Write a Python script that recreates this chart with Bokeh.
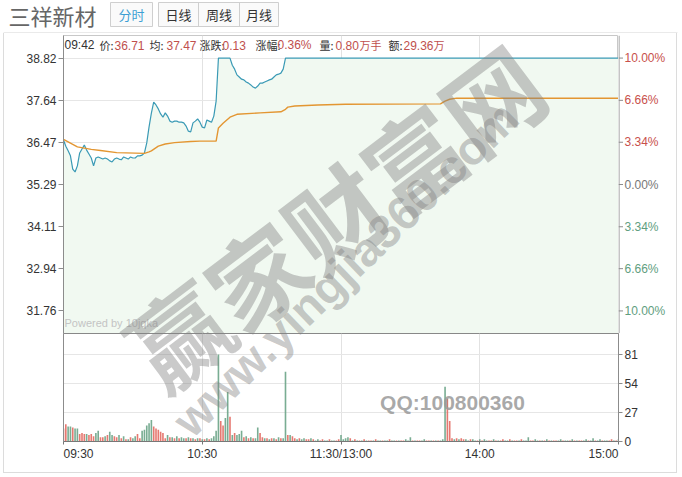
from bokeh.plotting import figure
from bokeh.models import Range1d, LinearAxis, FixedTicker, Label, ColumnDataSource
from bokeh.layouts import column, row
from bokeh.core.properties import value
from bokeh.embed import file_html
from bokeh.resources import INLINE

# ---------------- data ----------------
stock_name = "三祥新材"
tabs = ["分时", "日线", "周线", "月线"]

price_ticks = [31.76, 32.94, 34.11, 35.29, 36.47, 37.64, 38.82]
price_tick_labels = ["31.76", "32.94", "34.11", "35.29", "36.47", "37.64", "38.82"]
pct_labels = ["10.00%", "6.66%", "3.34%", "0.00%", "3.34%", "6.66%", "10.00%"]
pct_colors = ["#5f9e80", "#5f9e80", "#5f9e80", "#777777", "#c8504b", "#c8504b", "#c8504b"]

vol_ticks = [0, 27, 54, 81]
time_ticks = [0, 60, 120, 180, 240]
time_labels = ["09:30", "10:30", "11:30/13:00", "14:00", "15:00"]

# minute index (0 = 09:30) and price of the last-price line
price_min = list(range(0, 97)) + [240]
price_val = [36.53, 36.36, 36.23, 36.09, 35.72, 35.64, 35.81, 36.17, 36.28, 36.39,
             36.25, 36.14, 36.03, 35.81, 36.03, 36.06, 36.03, 36.00, 36.03, 36.00,
             35.95, 35.92, 36.00, 36.03, 36.00, 35.98, 36.06, 36.03, 36.00, 36.06,
             36.03, 36.03, 36.09, 36.09, 36.11, 36.17, 36.45, 36.90, 37.28, 37.59,
             37.51, 37.40, 37.26, 37.17, 37.29, 37.20, 37.06, 37.03, 37.06, 37.06,
             37.03, 37.03, 37.01, 36.92, 36.78, 36.76, 37.01, 37.06, 37.12, 37.03,
             36.89, 36.87, 37.09, 37.06, 37.03, 37.20, 37.62, 38.82, 38.82, 38.82,
             38.82, 38.82, 38.82, 38.62, 38.51, 38.35, 38.29, 38.23, 38.21, 38.15,
             38.12, 38.07, 38.01, 37.98, 38.04, 38.12, 38.12, 38.15, 38.18, 38.21,
             38.23, 38.29, 38.35, 38.37, 38.40, 38.51, 38.82, 38.82]

# average price line
avg_min = [0, 6, 12, 16, 23, 35, 37, 38, 41, 44, 48, 55, 59, 66, 67, 69, 72, 75, 85,
           94, 96, 97, 100, 110, 122, 163, 165, 167, 170, 240]
avg_val = [36.55, 36.34, 36.27, 36.24, 36.18, 36.16, 36.20, 36.23, 36.36, 36.42,
           36.46, 36.49, 36.50, 36.50, 36.87, 37.00, 37.17, 37.25, 37.29, 37.32,
           37.39, 37.45, 37.48, 37.51, 37.53, 37.54, 37.62, 37.67, 37.70, 37.70]

# volume per minute and direction (u = up/red, d = down/green)
vol_0930 = [12, 16, 14, 14, 13, 12, 12, 7, 8, 7,
            7, 6, 7, 5, 8, 10, 4, 4, 5, 6,
            9, 6, 5, 4, 6, 3, 5, 2, 2, 4,
            3, 5, 7, 3, 10, 11, 15, 17, 20, 14,
            12, 11, 9, 8, 3, 6, 4, 4, 3, 5,
            3, 4, 3, 3, 4, 3, 3, 2, 3, 3]
vol_1030 = [2, 2, 3, 2, 3, 5, 10, 81, 19, 15,
            22, 46, 23, 6, 8, 6, 7, 10, 4, 5,
            3, 4, 3, 3, 13, 8, 4, 3, 3, 2,
            3, 3, 2, 4, 3, 3, 65, 6, 6, 5,
            3, 2, 3, 2, 3, 2, 2, 3, 2, 1,
            2, 1, 2, 1, 1, 2, 1, 1, 1, 2]
vol_1300 = [6, 2, 3, 4, 3, 1, 2, 1, 1, 1,
            2, 1, 1, 1, 1, 2, 1, 1, 1, 1,
            1, 2, 1, 1, 1, 1, 1, 1, 2, 1,
            4, 1, 1, 1, 1, 1, 2, 1, 1, 1,
            1, 1, 1, 1, 2, 51, 40, 19, 3, 2,
            3, 2, 3, 2, 2, 1, 2, 2, 1, 1]
vol_1400 = [2, 1, 2, 1, 1, 1, 2, 1, 1, 1,
            2, 1, 1, 2, 1, 1, 1, 1, 2, 1,
            1, 4, 1, 1, 2, 1, 1, 1, 1, 2,
            1, 1, 1, 1, 1, 2, 1, 1, 1, 1,
            2, 1, 1, 1, 1, 1, 2, 1, 1, 3,
            1, 1, 2, 1, 1, 1, 1, 2, 1, 1, 2]
dir_0930 = ("uuddudduuu" "duuudduudu" "dduudududu" "dduudddddu" "uuuuududud" "uddudududu")
dir_1030 = ("dududddduu" "ddududddud" "ududduudud" "udududdudu" "ududduudud" "duuddudduu")
dir_1300 = ("ddddududud" "uduududdud" "dudduduudd" "duduudduud" "ududdduuud" "uduudduddu")
dir_1400 = ("dudduududu" "udduduudud" "dduuddudud" "uduudduddu" "duduuddudd" "uddudduudud")

# info line: (text, left x in px, kind d=label r=value, cjk?)
info_parts = [("09:42", 64, "d", False), ("价:", 99, "d", True), ("36.71", 114, "r", False),
              ("均:", 149, "d", True), ("37.47", 166, "r", False),
              ("涨跌:", 199, "d", True), ("0.13", 222, "r", False),
              ("涨幅:", 255, "d", True), ("0.36%", 277, "r", False),
              ("量:", 319, "d", True), ("0.80", 335, "r", False), ("万手", 359, "r", True),
              ("额:", 388, "d", True), ("29.36", 403, "r", False), ("万", 433, "r", True)]

# ---------------- layout helpers ----------------
LAT = "Liberation Sans"
CJK = "Noto Sans CJK SC"
P_LO, P_HI = 31.13, 39.45
V_HI = 100.6
X_PX = 555 / 240.0
NB = "\u00a0"


def px_to_min(px):
    return (px - 63) / X_PX


def py_to_price(py):
    return P_HI - (py - 35) * (P_HI - P_LO) / 298.0


def py_to_vol(py):
    return (441 - py) * V_HI / 108.0


def no_align(fig):
    try:
        fig.frame_align = False
    except Exception:
        pass


def watermarks(fig, yconv):
    fig.add_layout(Label(x=px_to_min(333), y=yconv(214), text="赢家财富网", angle=37, angle_units="deg",
                         text_font=CJK, text_font_style="bold", text_font_size="98px",
                         text_color="#808080", text_alpha=0.42, text_align="center", text_baseline="middle"))
    fig.add_layout(Label(x=px_to_min(345), y=yconv(268), text="www.yingjia360.com", angle=44, angle_units="deg",
                         text_font=LAT, text_font_style="bold", text_font_size="47px",
                         text_color="#808080", text_alpha=0.42, text_align="center", text_baseline="middle"))


# ---------------- header ----------------
h = figure(width=682, height=33, x_range=Range1d(0, 682), y_range=Range1d(0, 33),
           toolbar_location=None, output_backend="svg", x_axis_location=None, y_axis_location=None,
           min_border=0, outline_line_color=None)
no_align(h)
h.grid.visible = False
h.quad(left=[110, 158], right=[152, 278], bottom=[7, 7], top=[31, 31],
       fill_color="#fafafa", line_color="#cfcfcf")
h.segment(x0=[198, 239], y0=[7, 7], x1=[198, 239], y1=[31, 31], line_color="#cfcfcf")
h.segment(x0=[3], y0=[0.5], x1=[677], y1=[0.5], line_color="#d4d4d4")
h.add_layout(Label(x=8, y=19, text=stock_name, text_font=CJK, text_font_size="22px",
                   text_color="#666666", text_baseline="middle"))
tab_x = [131, 178, 218.5, 258.5]
tab_c = ["#3d9fd4", "#333333", "#333333", "#333333"]
for t, tx, tc in zip(tabs, tab_x, tab_c):
    h.add_layout(Label(x=tx, y=19, text=t, text_font=CJK, text_font_size="13px",
                       text_color=tc, text_align="center", text_baseline="middle"))

# ---------------- price panel ----------------
p = figure(width=618, height=300, x_range=Range1d(0, 240), y_range=Range1d(P_LO, P_HI),
           toolbar_location=None, output_backend="svg", x_axis_location=None, y_axis_location="left",
           min_border_left=63, min_border_right=0, min_border_top=2, min_border_bottom=0,
           outline_line_color="#c8c8c8", background_fill_color="#ffffff", border_fill_color=None)
p.xgrid.ticker = FixedTicker(ticks=[60, 120, 180])
p.xgrid.grid_line_color = "#e2e2e2"
p.ygrid.ticker = FixedTicker(ticks=price_ticks)
p.ygrid.grid_line_color = "#e6e6e6"

src_p = ColumnDataSource(dict(x=price_min, y=price_val, lo=[P_LO] * len(price_min)))
p.varea(x="x", y1="lo", y2="y", source=src_p, fill_color="#f1f9f1")
p.line(x="x", y="y", source=src_p, line_color="#3a9ab5", line_width=1.2)
p.line(x=avg_min, y=avg_val, line_color="#e39632", line_width=1.4)

ya = p.yaxis[0]
ya.ticker = FixedTicker(ticks=price_ticks)
ya.major_label_overrides = {t: s for t, s in zip(price_ticks, price_tick_labels)}
ya.major_label_text_font = LAT
ya.major_label_text_font_size = "12px"
ya.major_label_text_color = "#333333"
ya.major_label_standoff = 2
ya.axis_line_color = "#8c8c8c"
ya.major_tick_line_color = "#8c8c8c"
ya.major_tick_out = 5
ya.major_tick_in = 0
ya.minor_tick_line_color = None

for s, px, kind, cjk in info_parts:
    p.add_layout(Label(x=px_to_min(px), y=py_to_price(44.5), text=s,
                       text_font=(CJK if cjk else LAT),
                       text_font_size=("11px" if cjk else "12px"),
                       text_color=("#333333" if kind == "d" else "#c0504d"),
                       text_baseline="middle", text_align="left"))
p.add_layout(Label(x=px_to_min(64), y=py_to_price(322), text="Powered by 10jqka", text_font=LAT,
                   text_font_size="11px", text_color="#c4c4c4", text_baseline="middle"))
watermarks(p, py_to_price)

# right-hand percentage scale (separate strip sharing the price range)
r = figure(width=64, height=300, x_range=Range1d(0, 64), y_range=p.y_range,
           toolbar_location=None, output_backend="svg", x_axis_location=None, y_axis_location=None,
           min_border_left=0, min_border_right=0, min_border_top=2, min_border_bottom=0,
           outline_line_color=None, background_fill_color=None, border_fill_color=None)
no_align(r)
r.grid.visible = False
r.segment(x0=[0.5], y0=[P_LO], x1=[0.5], y1=[P_HI], line_color="#8c8c8c")
r.segment(x0=[0] * len(price_ticks), y0=price_ticks, x1=[4.5] * len(price_ticks), y1=price_ticks,
          line_color="#8c8c8c")
r.text(x=[6] * len(price_ticks), y=price_ticks, text=pct_labels, text_color=pct_colors,
       text_font=value(LAT), text_font_size="12px", text_baseline="middle", text_align="left")

# ---------------- volume panel ----------------
vol = vol_0930 + vol_1030 + vol_1300 + vol_1400
dirs = list(dir_0930 + dir_1030 + dir_1300 + dir_1400)
n = min(len(vol), len(dirs))
vol = vol[:n]
dirs = dirs[:n]
colors = ["#e36a62" if d == "u" else "#6aa487" for d in dirs]
src_v = ColumnDataSource(dict(x=list(range(n)), top=vol, c=colors))

v = figure(width=682, height=140, x_range=p.x_range, y_range=Range1d(0, V_HI),
           toolbar_location=None, output_backend="svg",
           min_border_left=63, min_border_right=64, min_border_top=0, min_border_bottom=32,
           outline_line_color="#888888", background_fill_color="#ffffff", border_fill_color=None)
v.xgrid.ticker = FixedTicker(ticks=[60, 120, 180])
v.xgrid.grid_line_color = "#e2e2e2"
v.ygrid.ticker = FixedTicker(ticks=[27, 54, 81])
v.ygrid.grid_line_color = "#e6e6e6"
v.vbar(x="x", top="top", width=0.7, bottom=0, source=src_v, fill_color="c", line_color=None, fill_alpha=0.9)

vl = v.yaxis[0]
vl.ticker = FixedTicker(ticks=[])
vl.axis_line_color = "#8c8c8c"
vl.major_tick_line_color = None
vl.minor_tick_line_color = None
vl.major_label_text_alpha = 0

vr = LinearAxis(ticker=FixedTicker(ticks=vol_ticks), axis_line_color="#8c8c8c",
                major_tick_line_color="#8c8c8c", major_tick_out=4, major_tick_in=0,
                minor_tick_line_color=None, major_label_text_font=LAT,
                major_label_text_font_size="12px", major_label_text_color="#333333",
                major_label_standoff=2)
v.add_layout(vr, "right")

time_over = {}
for i, (t, s) in enumerate(zip(time_ticks, time_labels)):
    if i == 0:
        s = NB * 9 + s
    elif i == len(time_ticks) - 1:
        s = s + NB * 9
    time_over[t] = s
xa = v.xaxis[0]
xa.ticker = FixedTicker(ticks=time_ticks)
xa.major_label_overrides = time_over
xa.major_label_text_font = LAT
xa.major_label_text_font_size = "12px"
xa.major_label_text_color = "#333333"
xa.major_label_standoff = 2
xa.axis_line_color = "#777777"
xa.major_tick_line_color = "#777777"
xa.major_tick_out = 3
xa.major_tick_in = 0
xa.minor_tick_line_color = None
v.add_layout(Label(x=px_to_min(452), y=py_to_vol(402), text="QQ:100800360", text_font=LAT,
                   text_font_style="bold", text_font_size="21px", text_color="#9a9a9a", text_alpha=0.85,
                   text_align="center", text_baseline="middle"))
watermarks(v, py_to_vol)

# light outer frame of the chart box, drawn as the body's background behind the transparent borders
frame_css = {
    "background-color": "#ffffff",
    "background-image": ("linear-gradient(#dcdcdc, #dcdcdc), linear-gradient(#dcdcdc, #dcdcdc), "
                         "linear-gradient(#dcdcdc, #dcdcdc)"),
    "background-size": "1px 440px, 1px 440px, 674px 1px",
    "background-position": "3px 0px, 676px 0px, 3px 439px",
    "background-repeat": "no-repeat",
}
body = column(row(p, r), v, styles=frame_css)
layout = column(h, body)
open("out.html", "w").write(file_html(layout, INLINE))
